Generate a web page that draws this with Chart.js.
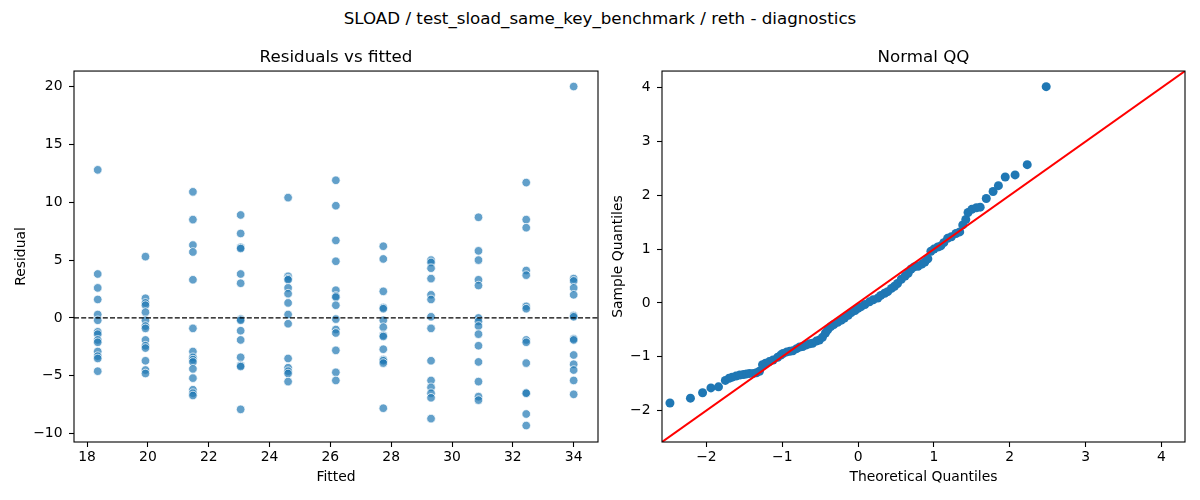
<!DOCTYPE html>
<html>
<head>
<meta charset="utf-8">
<script src="https://cdn.jsdelivr.net/npm/chart.js@4.4.0/dist/chart.umd.min.js"></script>
<style>
  body { margin: 0; background: #fff; width: 1200px; height: 500px; overflow: hidden; position: relative; font-family: 'DejaVu Sans', sans-serif; }
  #suptitle { position: absolute; left: 0; top: 7px; width: 1200px; text-align: center; font-size: 16.7px; line-height: 22px; color: #000; }
  .panel { position: absolute; top: 0; height: 500px; }
</style>
</head>
<body>
<div id="suptitle">SLOAD / test_sload_same_key_benchmark / reth - diagnostics</div>
<div class="panel" style="left:0;width:610px"><canvas id="resid"></canvas></div>
<div class="panel" style="left:610px;width:590px"><canvas id="qq"></canvas></div>
<script>
// fitted values (one column of residuals per fitted level)
const fitted = [18.35, 19.92, 21.48, 23.05, 24.61, 26.18, 27.74, 29.31, 30.87, 32.44, 34.0];

const res01 = [12.8, 3.8, 2.6, 1.6, 0.3, -0.2, -1.2, -1.4, -1.9, -2.1, -2.9, -3.3, -3.5, -4.6];
const res02 = [5.3, 1.7, 1.3, 1.1, 0.5, -0.2, -0.7, -0.9, -1.9, -2.4, -2.6, -3.7, -4.5, -4.8];
const res03 = [10.9, 8.5, 6.3, 5.7, 3.3, -0.9, -2.9, -3.4, -3.6, -3.8, -4.4, -5.2, -6.2, -6.5, -6.7];
const res04 = [8.9, 7.3, 6.1, 6.0, 3.8, 3.0, -0.1, -0.2, -1.1, -1.9, -3.4, -4.1, -4.2, -7.9];
const res05 = [10.4, 3.6, 3.4, 3.3, 2.6, 2.1, 1.3, 0.3, -0.5, -3.5, -4.3, -4.6, -4.8, -5.5];
const res06 = [11.9, 9.7, 6.7, 4.9, 2.4, 1.9, 1.8, 1.1, -0.1, -1.0, -1.3, -2.8, -4.7, -5.4];
const res07 = [6.2, 5.1, 2.3, 0.9, 0.8, -0.2, -0.8, -1.5, -1.6, -2.7, -3.6, -3.7, -3.9, -7.8];
const res08 = [5.0, 4.8, 4.3, 3.4, 2.0, 1.6, 0.1, -0.9, -3.7, -5.4, -6.0, -6.5, -6.9, -8.7];
const res09 = [8.7, 5.8, 5.0, 3.3, 2.8, 0.0, -0.3, -0.7, -1.4, -2.4, -3.8, -5.5, -6.8, -7.1];
const res10 = [11.7, 8.5, 7.8, 4.1, 3.7, 1.0, 0.8, -1.9, -2.1, -3.9, -6.5, -6.5, -8.3, -9.3];
const res11 = [20.0, 3.4, 3.2, 2.6, 2.0, 0.2, 0.1, -1.8, -1.9, -3.2, -4.0, -4.5, -5.4, -6.6];
const residCols = [res01, res02, res03, res04, res05, res06, res07, res08, res09, res10, res11];

// normal QQ points
const qqTheo = [-2.48, -2.21, -2.05, -1.94, -1.84,
  -1.75, -1.70, -1.66, -1.61, -1.56, -1.51, -1.47, -1.43, -1.38, -1.34, -1.30, -1.26, -1.22, -1.17,
  -1.12, -1.06, -1.02, -0.99, -0.94, -0.90, -0.86, -0.81, -0.77, -0.73, -0.68, -0.64, -0.60, -0.55,
  -0.51, -0.47, -0.43, -0.40, -0.36, -0.32, -0.27, -0.22, -0.18, -0.13, -0.09, -0.04, 0.00, 0.04,
  0.09, 0.15, 0.20, 0.26, 0.30, 0.35, 0.39, 0.44, 0.48, 0.52, 0.57, 0.62, 0.66, 0.70, 0.74, 0.79,
  0.84, 0.88, 0.92, 0.96, 1.00, 1.05, 1.09, 1.13, 1.18, 1.23, 1.29, 1.34, 1.38, 1.42, 1.45, 1.50,
  1.56, 1.61,
  1.69, 1.78, 1.85, 1.94, 2.07, 2.23, 2.48];
const qqSample = [-1.86, -1.77, -1.67, -1.58, -1.56,
  -1.44, -1.40, -1.38, -1.36, -1.34, -1.33, -1.32, -1.31, -1.31, -1.30, -1.27, -1.15, -1.12, -1.09,
  -1.06, -1.01, -0.97, -0.94, -0.91, -0.90, -0.89, -0.85, -0.82, -0.81, -0.78, -0.76, -0.75, -0.71,
  -0.69, -0.64, -0.56, -0.50, -0.44, -0.40, -0.36, -0.32, -0.28, -0.23, -0.18, -0.14, -0.10, -0.07,
  -0.03, 0.02, 0.06, 0.09, 0.14, 0.18, 0.21, 0.27, 0.31, 0.36, 0.44, 0.50, 0.55, 0.63, 0.67, 0.68,
  0.72, 0.76, 0.82, 0.96, 1.00, 1.04, 1.06, 1.12, 1.20, 1.23, 1.29, 1.32, 1.45, 1.55, 1.68, 1.74,
  1.77, 1.78,
  1.94, 2.07, 2.18, 2.34, 2.38, 2.57, 4.02];

const leftRange = { xmin: 17.57, xmax: 34.80, ymin: -10.72, ymax: 21.34 };
const qqRange = { min: -2.585, max: 4.31 };

Chart.defaults.font.family = "'DejaVu Sans', sans-serif";
Chart.defaults.font.size = 13.9;
Chart.defaults.color = '#000';
Chart.defaults.animation = false;

const minus = v => String(v).replace('-', '\u2212');

// matplotlib style box around the axes
const frame = {
  id: 'frame',
  afterDraw(chart) {
    const a = chart.chartArea, ctx = chart.ctx;
    ctx.save();
    ctx.strokeStyle = '#000';
    ctx.lineWidth = 1.1;
    ctx.strokeRect(a.left, a.top, a.right - a.left, a.bottom - a.top);
    ctx.restore();
  }
};

function axis(min, max, step, title, titlePad, fit) {
  return {
    type: 'linear', min: min, max: max,
    grid: { drawOnChartArea: false, drawTicks: true, tickLength: 5, color: '#000', tickWidth: 1.1 },
    border: { display: false },
    ticks: { stepSize: step, includeBounds: false, padding: fit.pad, callback: minus, color: '#000' },
    title: { display: true, text: title, padding: titlePad, color: '#000' },
    afterFit: s => { if (fit.w) s.width = fit.w; if (fit.h) s.height = fit.h; }
  };
}

const points = [];
fitted.forEach((f, i) => residCols[i].forEach(r => points.push({ x: f, y: r })));

new Chart(document.getElementById('resid'), {
  type: 'scatter',
  data: {
    datasets: [
      {
        type: 'line',
        data: [{ x: leftRange.xmin, y: 0 }, { x: leftRange.xmax, y: 0 }],
        borderColor: '#000', borderWidth: 1.3, borderDash: [5, 2.2], pointRadius: 0, clip: 0
      },
      {
        data: points,
        backgroundColor: 'rgba(31,119,180,0.7)',
        borderColor: '#fff', borderWidth: 0.75, pointRadius: 4.3
      }
    ]
  },
  options: {
    responsive: true, maintainAspectRatio: false,
    layout: { padding: { left: 0, right: 12, top: 48, bottom: 0 } },
    plugins: {
      legend: { display: false }, tooltip: { enabled: false },
      title: { display: true, text: 'Residuals vs fitted', fullSize: false, color: '#000',
        font: { size: 16.7, weight: 'normal' }, padding: { top: 0, bottom: 3 } }
    },
    scales: {
      x: axis(leftRange.xmin, leftRange.xmax, 2, 'Fitted', { top: 0, bottom: 14.7 }, { h: 58, pad: 2.5 }),
      y: axis(leftRange.ymin, leftRange.ymax, 5, 'Residual', { top: 12.7, bottom: 0 }, { w: 74, pad: 6.5 })
    }
  },
  plugins: [frame]
});

new Chart(document.getElementById('qq'), {
  type: 'scatter',
  data: {
    datasets: [
      {
        type: 'line',
        data: [{ x: qqRange.min, y: qqRange.min }, { x: qqRange.max, y: qqRange.max }],
        borderColor: '#ff0000', borderWidth: 2, pointRadius: 0, clip: 0
      },
      {
        data: qqTheo.map((t, i) => ({ x: t, y: qqSample[i] })),
        backgroundColor: '#1f77b4', borderWidth: 0, pointRadius: 4.5
      }
    ]
  },
  options: {
    responsive: true, maintainAspectRatio: false,
    layout: { padding: { left: 0, right: 15, top: 48, bottom: 0 } },
    plugins: {
      legend: { display: false }, tooltip: { enabled: false },
      title: { display: true, text: 'Normal QQ', fullSize: false, color: '#000',
        font: { size: 16.7, weight: 'normal' }, padding: { top: 0, bottom: 3 } }
    },
    scales: {
      x: axis(qqRange.min, qqRange.max, 1, 'Theoretical Quantiles', { top: 0, bottom: 14 }, { h: 58, pad: 2.5 }),
      y: axis(qqRange.min, qqRange.max, 1, 'Sample Quantiles', { top: 0, bottom: 0 }, { w: 52, pad: 6.5 })
    }
  },
  plugins: [frame]
});
</script>
</body>
</html>
